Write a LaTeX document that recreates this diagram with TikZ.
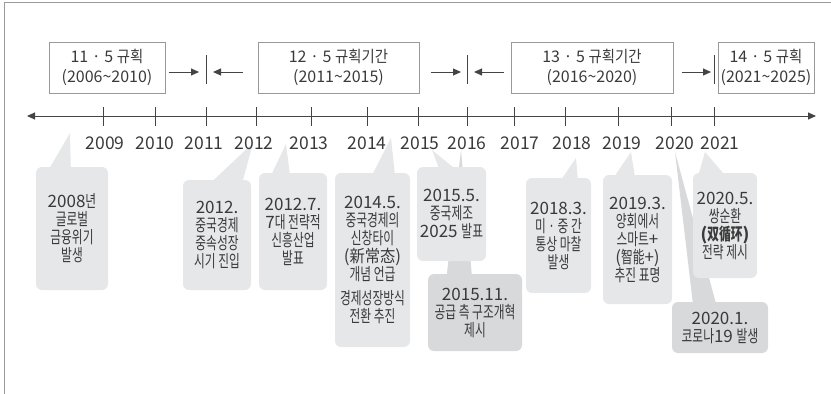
\documentclass[tikz,border=0pt]{standalone}
\usepackage{fontspec}
\setmainfont{Noto Sans CJK KR}
\newfontfamily\ko{Noto Sans CJK KR}[FakeStretch=0.69]
\newfontfamily\kot{Noto Sans CJK KR}[FakeStretch=0.9]
\usepackage{tikz}
\usetikzlibrary{calc}
\usetikzlibrary{arrows.meta}
\usetikzlibrary{backgrounds}
\definecolor{inkgray}{HTML}{3A3A3A}
\definecolor{linegray}{HTML}{444444}
\definecolor{framegray}{HTML}{9A9A9A}
\definecolor{boxgray}{HTML}{999999}
\definecolor{calloutfill}{HTML}{E6E7E8}
\definecolor{calloutdark}{HTML}{D8D9DA}
\tikzset{>={Triangle[length=8pt,width=7pt]}}
\tikzset{
  plan/.style={draw=boxgray, line width=1pt, inner sep=0pt, align=center,
    font=\fontsize{16}{20}\selectfont, text=inkgray},
  callout/.style={fill=calloutfill, rounded corners=6pt, inner sep=0pt, align=center,
    font=\fontsize{17}{18}\selectfont, text=inkgray},
  yearlbl/.style={font=\fontsize{17.5}{18}\selectfont, text=inkgray},
}

\begin{document}
\begin{tikzpicture}[x=1pt,y=-1pt]
  \useasboundingbox (0,0) rectangle (831,394);
  \draw[framegray, line width=1pt] (4,394) -- (4,2) -- (831,2);

  % five-year plans
  \node[plan, minimum width=116pt, minimum height=51pt] (p11) at (107,67.5)
    {11 · 5 {\kot 규획}\\(2006\textasciitilde 2010)};
  \node[plan, minimum width=161pt, minimum height=51pt] (p12) at (338.5,67.5)
    {12 · 5 {\kot 규획기간}\\(2011\textasciitilde 2015)};
  \node[plan, minimum width=162pt, minimum height=51pt] (p13) at (592,67.5)
    {13 · 5 {\kot 규획기간}\\(2016\textasciitilde 2020)};
  \node[plan, minimum width=96pt, minimum height=51pt] (p14) at (766,67.5)
    {14 · 5 {\kot 규획}\\(2021\textasciitilde 2025)};

  \coordinate (bar2011) at (206,72);
  \coordinate (bar2016) at (467,72);
  \coordinate (bar2021) at (714,72);
  \foreach \b in {2011,2016,2021}
    \draw[linegray, line width=1pt] ($(bar\b)+(0,-17)$) -- ($(bar\b)+(0,12)$);
  \draw[linegray, line width=1pt, ->] ($(p11.east |- bar2011)+(3,0)$) -- ($(bar2011)+(-7,0)$);
  \draw[linegray, line width=1pt, ->] ($(p12.west |- bar2011)+(-15,0)$) -- ($(bar2011)+(7,0)$);
  \draw[linegray, line width=1pt, ->] ($(p12.east |- bar2016)+(11,0)$) -- ($(bar2016)+(-6,0)$);
  \draw[linegray, line width=1pt, ->] ($(p13.west |- bar2016)+(-7,0)$) -- ($(bar2016)+(7,0)$);
  \draw[linegray, line width=1pt, ->] ($(p13.east |- bar2021)+(8,0)$) -- ($(bar2021)+(-3,0)$);

  % time axis
  \coordinate (tl) at (27,116);
  \coordinate (tr) at (816,116);
  \draw[linegray, line width=1pt, <->] (tl) -- (tr);
  \foreach \yr/\tx/\lx in {2009/103/105, 2010/155/155, 2011/206/204, 2012/256/254,
      2013/311/309, 2014/367/367, 2015/418/420, 2016/467/467, 2017/514/520,
      2018/565/572, 2019/618/622, 2020/671/675, 2021/714/720} {
    \draw[linegray, line width=1pt] (\tx,107) -- (\tx,126);
    \node[yearlbl] (y\yr) at (\lx,143) {\yr};
  }

  % events
  \node[callout, minimum width=72pt, minimum height=123pt] (c2008) at (72,228.5)
    {2008{\ko 년}\\{\ko 글로벌}\\{\ko 금융위기}\\{\ko 발생}};
  \node[callout, minimum width=68pt, minimum height=110pt] (c2012) at (217,235)
    {2012.\\{\ko 중국경제}\\{\ko 중속성장}\\{\ko 시기 진입}};
  \node[callout, minimum width=68pt, minimum height=117pt] (c2012b) at (293,231.5)
    {2012.7.\\7{\ko 대 전략적}\\{\ko 신흥산업}\\{\ko 발표}};
  \node[callout, minimum width=75pt, minimum height=174pt] (c2014) at (372.5,260)
    {2014.5.\\{\ko 중국경제의}\\{\ko 신창타이}\\({\kot 新常态})\\{\ko 개념 언급}\\[6pt]{\ko 경제성장방식}\\{\ko 전환 추진}};
  \node[callout, minimum width=69pt, minimum height=94pt] (c2015a) at (451.5,214)
    {2015.5.\\{\ko 중국제조}\\2025 {\ko 발표}};
  \node[callout, fill=calloutdark, minimum width=94pt, minimum height=77pt] (c2015b) at (475,312.5)
    {2015.11.\\{\ko 공급 측 구조개혁}\\{\ko 제시}};
  \node[callout, minimum width=65pt, minimum height=115pt] (c2018) at (558.5,235.5)
    {2018.3.\\{\ko 미 · 중 간}\\{\ko 통상 마찰}\\{\ko 발생}};
  \node[callout, minimum width=69pt, minimum height=129pt] (c2019) at (637.5,239.5)
    {2019.3.\\{\ko 양회에서}\\{\ko 스마트}+\\({\ko 智能}+)\\{\ko 추진 표명}};
  \node[callout, minimum width=64pt, minimum height=105pt] (c2020a) at (725,225.5)
    {2020.5.\\{\ko 쌍순환}\\{\bfseries({\ko 双循环})}\\{\ko 전략 제시}};
  \node[callout, fill=calloutdark, minimum width=96pt, minimum height=51pt] (c2020b) at (720,327.5)
    {2020.1.\\{\ko 코로나}19 {\ko 발생}};

  % pointers
  \coordinate (tip2008) at (70,133);
  \coordinate (tip2012) at (253,143);
  \coordinate (tip2012b) at (286,144);
  \coordinate (tip2014) at (391,138);
  \coordinate (tip2015a) at (432,150);
  \coordinate (tip2015b) at (461,150);
  \coordinate (tip2018) at (576,158);
  \coordinate (tip2019) at (631,152);
  \coordinate (tip2020a) at (705,152);
  \coordinate (tip2020b) at (675,152);
  \begin{scope}[on background layer]
    \foreach \n/\a/\b/\col in {2008/14/35/calloutfill, 2012/30/60/calloutfill,
        2012b/13/31/calloutfill, 2014/38/60/calloutfill, 2015a/22/37/calloutfill,
        2015b/19/44/calloutdark, 2018/36/52/calloutfill, 2019/12/32/calloutfill,
        2020a/6/31/calloutfill, 2020b/21/44/calloutdark}
      \fill[\col] (tip\n) -- ([xshift=\a pt,yshift=-1pt]c\n.north west)
        -- ([xshift=\b pt,yshift=-1pt]c\n.north west) -- cycle;
  \end{scope}
\end{tikzpicture}
\end{document}
